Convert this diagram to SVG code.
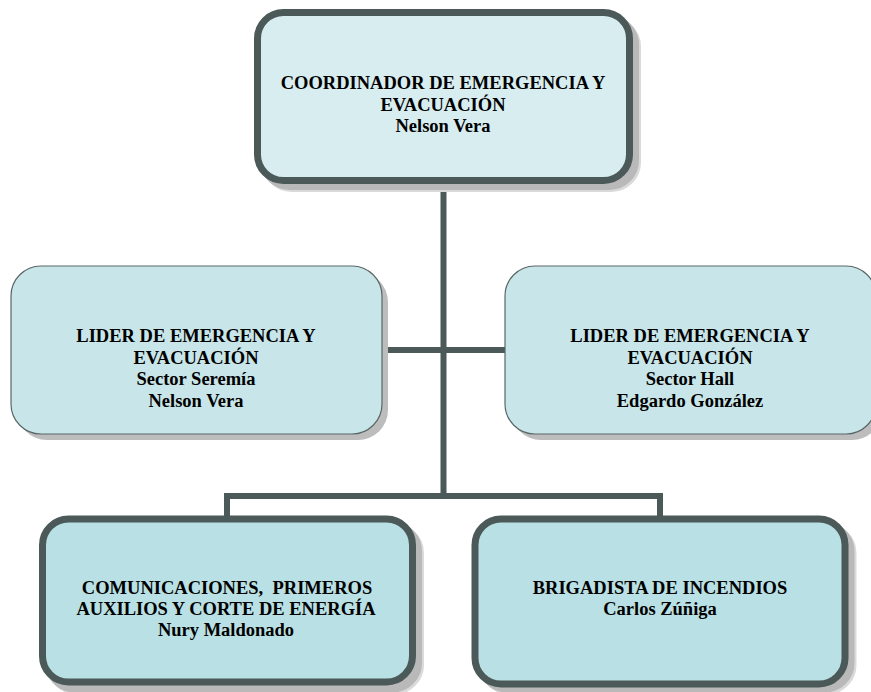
<svg xmlns="http://www.w3.org/2000/svg" width="871" height="692" viewBox="0 0 871 692">
<style>
.t{font-family:"Liberation Serif","Times New Roman",serif;font-weight:bold;font-size:18.5px;fill:#000;text-anchor:middle;white-space:pre}
.sh1{fill:#dadada;stroke:#dadada}
.sh2{fill:#b9b9b9;stroke:#b9b9b9}
.thick{stroke:#4b5959;stroke-width:7}
.thin{stroke:#5a6666;stroke-width:1.2}
.conn{stroke:#4b5959;stroke-width:6;fill:none}
</style>
<rect width="871" height="692" fill="#fff"/>
<g id="connectors">
<path class="conn" d="M443.5 184 V496 M382 350 H505 M227 496 H660 M227 493 V518 M660 493 V518"/>
</g>
<g id="coordinador">
<rect class="sh1" x="265.5" y="20.5" width="372" height="168" rx="26" stroke-width="7"/>
<rect class="sh2" x="263.5" y="18.5" width="372" height="168" rx="26" stroke-width="7"/>
<rect class="thick" x="257.5" y="12.5" width="372" height="168" rx="26" fill="#d7edf0"/>
<text class="t" x="443" y="89">COORDINADOR DE EMERGENCIA Y</text>
<text class="t" x="443" y="110.5">EVACUACIÓN</text>
<text class="t" x="443" y="132">Nelson Vera</text>
</g>
<g id="lider-seremia">
<rect x="17" y="272" width="371" height="168" rx="30" fill="#bdbdbd"/>
<rect class="thin" x="11" y="266" width="371" height="168" rx="30" fill="#c8e6e9"/>
<text class="t" x="196" y="342">LIDER DE EMERGENCIA Y</text>
<text class="t" x="196" y="363.5">EVACUACIÓN</text>
<text class="t" x="196" y="385">Sector Seremía</text>
<text class="t" x="196" y="406.5">Nelson Vera</text>
</g>
<g id="lider-hall">
<rect x="511" y="272" width="371" height="168" rx="30" fill="#bdbdbd"/>
<rect class="thin" x="505" y="266" width="371" height="168" rx="30" fill="#c8e6e9"/>
<text class="t" x="690" y="342">LIDER DE EMERGENCIA Y</text>
<text class="t" x="690" y="363.5">EVACUACIÓN</text>
<text class="t" x="690" y="385">Sector Hall</text>
<text class="t" x="690" y="406.5">Edgardo González</text>
</g>
<g id="comunicaciones">
<rect class="sh1" x="50.5" y="527" width="370" height="164" rx="26" stroke-width="7"/>
<rect class="sh2" x="48.5" y="525" width="370" height="164" rx="26" stroke-width="7"/>
<rect class="thick" x="42.5" y="519" width="370" height="163" rx="26" fill="#b9e0e4"/>
<text class="t" x="227" y="594">COMUNICACIONES,  PRIMEROS</text>
<text class="t" x="226" y="615">AUXILIOS Y CORTE DE ENERGÍA</text>
<text class="t" x="226" y="635.5">Nury Maldonado</text>
</g>
<g id="brigadista">
<rect class="sh1" x="483" y="527" width="370" height="164" rx="26" stroke-width="7"/>
<rect class="sh2" x="481" y="525" width="370" height="164" rx="26" stroke-width="7"/>
<rect class="thick" x="475" y="519" width="370" height="165" rx="26" fill="#b9e0e4"/>
<text class="t" x="660" y="594">BRIGADISTA DE INCENDIOS</text>
<text class="t" x="660" y="615">Carlos Zúñiga</text>
</g>
</svg>
